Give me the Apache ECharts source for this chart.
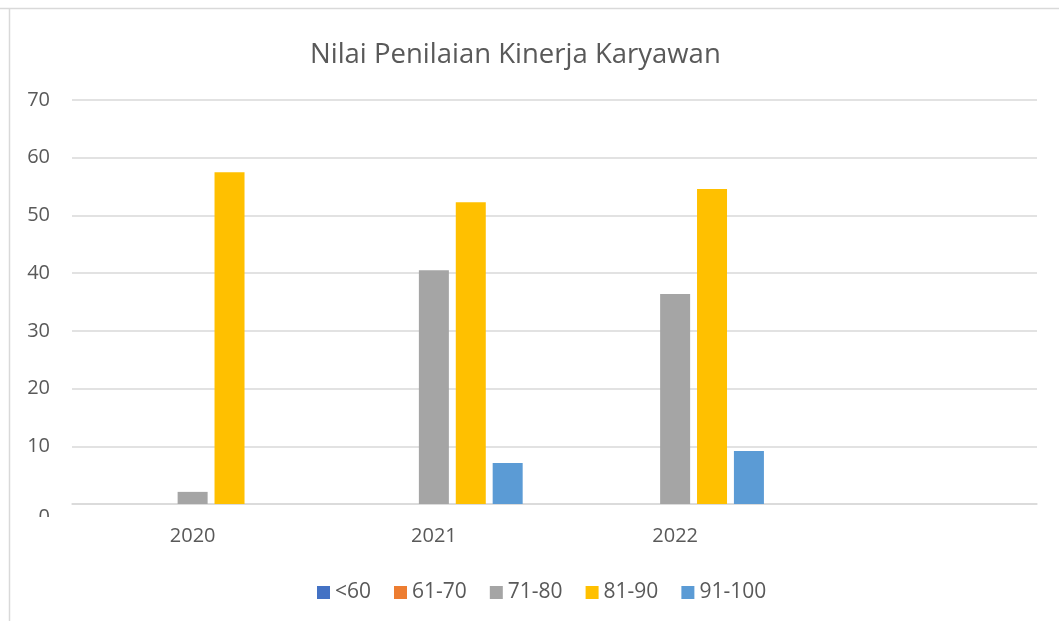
<!DOCTYPE html>
<html><head><meta charset="utf-8">
<script src="https://cdn.jsdelivr.net/npm/echarts@6/dist/echarts.min.js"></script>
<style>html,body{margin:0;padding:0;background:#fff}#c{width:1059px;height:621px}</style>
</head><body><div id="c"></div>
<script>
const categories = ['2020', '2021', '2022', ''];
const seriesNames = ['<60', '61-70', '71-80', '81-90', '91-100'];
const below60 = [0, 0, 0, null];
const s61to70 = [0, 0, 0, null];
const s71to80 = [2.1, 40.5, 36.4, null];
const s81to90 = [57.5, 52.3, 54.6, null];
const s91to100 = [0, 7.1, 9.2, null];
const yTicks = [0, 10, 20, 30, 40, 50, 60, 70];
const colors = ['#4472C4', '#ED7D31', '#A5A5A5', '#FFC000', '#5B9BD5'];
const values = [below60, s61to70, s71to80, s81to90, s91to100];
const font = 'Open Sans';
const chart = echarts.init(document.getElementById('c'));
chart.setOption({
  animation: false,
  color: colors,
  title: { text: 'Nilai Penilaian Kinerja Karyawan', left: 305, top: 36,
    textStyle: { fontFamily: font, fontSize: 27.5, fontWeight: 'normal', color: '#595959' } },
  legend: { left: 312, top: 577, itemWidth: 13, itemHeight: 13, itemGap: 23,
    icon: 'rect', textStyle: { fontFamily: font, fontSize: 21, color: '#595959' } },
  grid: { left: 72, right: 22, top: 100, bottom: 117 },
  xAxis: { type: 'category', data: categories,
    axisLine: { lineStyle: { color: '#d9d9d9', width: 1.5 } }, axisTick: { show: false },
    axisLabel: { fontFamily: font, fontSize: 20, color: '#595959', margin: 22 } },
  yAxis: { type: 'value', min: yTicks[0], max: yTicks[yTicks.length-1], interval: 10,
    axisLine: { show: false }, axisTick: { show: false },
    splitLine: { lineStyle: { color: '#d9d9d9', width: 1.5 } },
    axisLabel: { fontFamily: font, fontSize: 20, color: '#595959', margin: 22,
      formatter: v => v === 0 ? '{z|0}' : String(v),
      rich: { z: { fontFamily: font, fontSize: 20, color: '#595959', padding: [26, 0, 0, 0] } } } },
  series: seriesNames.map((n, i) => ({ name: n, type: 'bar', data: values[i],
    barWidth: 30, barGap: '23%', itemStyle: { color: colors[i] } })),
  graphic: [
    { type: 'rect', shape: { x: 20, y: 517, width: 45, height: 16 }, style: { fill: '#fff' }, z: 100 },
    { type: 'line', shape: { x1: 0, y1: 8.5, x2: 1059, y2: 8.5 }, style: { stroke: '#d9d9d9', lineWidth: 1.5 }, z: 100 },
    { type: 'line', shape: { x1: 9.5, y1: 8, x2: 9.5, y2: 621 }, style: { stroke: '#d9d9d9', lineWidth: 1.5 }, z: 100 }
  ]
});
</script></body></html>
